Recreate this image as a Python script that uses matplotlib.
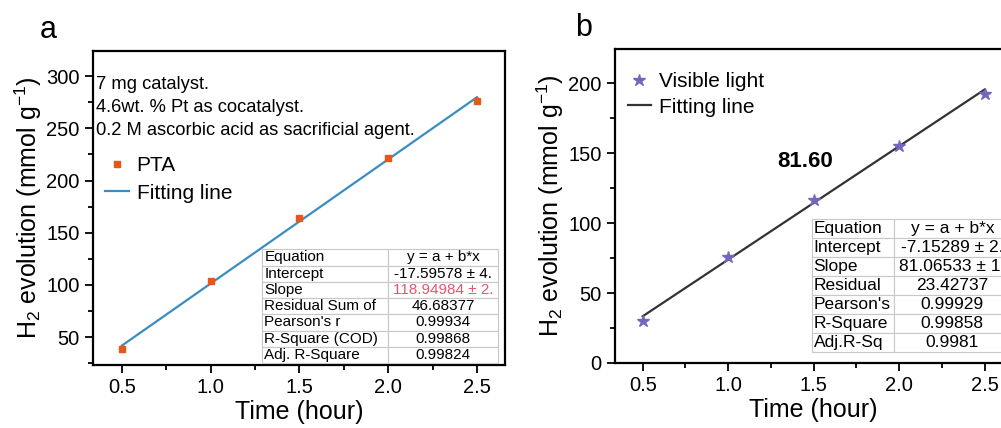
import matplotlib.pyplot as plt
from matplotlib.ticker import MultipleLocator

plt.rcParams['font.family'] = ['Liberation Sans', 'DejaVu Sans']
plt.rcParams['mathtext.fontset'] = 'custom'
plt.rcParams['mathtext.rm'] = 'Liberation Sans'

time_h = [0.5, 1.0, 1.5, 2.0, 2.5]
pta_h2 = [38.5, 103.6, 164.3, 221.7, 275.8]
vis_h2 = [29.7, 75.4, 116.6, 155.4, 192.4]

fit_a = (-17.59578, 118.94984)
fit_b = (-7.15289, 81.06533)

rows_a = ['Equation', 'Intercept', 'Slope', 'Residual Sum of', "Pearson's r",
          'R-Square (COD)', 'Adj. R-Square']
vals_a = ['y = a + b*x', '-17.59578 ± 4.', '118.94984 ± 2.', '46.68377',
          '0.99934', '0.99868', '0.99824']
rows_b = ['Equation', 'Intercept', 'Slope', 'Residual', "Pearson's",
          'R-Square', 'Adj.R-Sq']
vals_b = ['y = a + b*x', '-7.15289 ± 2.', '81.06533 ± 1.', '23.42737',
          '0.99929', '0.99858', '0.9981']

notes = ['7 mg catalyst.', '4.6wt. % Pt as cocatalyst.',
         '0.2 M ascorbic acid as sacrificial agent.']

ylabel = 'H$_2$ evolution (mmol g$^{-1}$)'


def style_axes(ax, ymajor):
    ax.xaxis.set_major_locator(MultipleLocator(0.5))
    ax.xaxis.set_minor_locator(MultipleLocator(0.25))
    ax.yaxis.set_major_locator(MultipleLocator(ymajor))
    ax.yaxis.set_minor_locator(MultipleLocator(ymajor / 2))
    ax.tick_params(which='both', direction='out', top=False, right=False,
                   labelsize=14.5, width=1.3)
    ax.tick_params(which='major', length=6)
    ax.tick_params(which='minor', length=3.5)
    for s in ax.spines.values():
        s.set_linewidth(1.6)
    ax.set_xlabel('Time (hour)', fontsize=18, labelpad=2)
    ax.set_ylabel(ylabel, fontsize=18, labelpad=2)


def fit_table(ax, rows, vals, bbox, col0, fs, hi=None):
    cells = [[r, v] for r, v in zip(rows, vals)]
    tb = ax.table(cellText=cells, bbox=bbox, colWidths=[col0, 1 - col0],
                  cellLoc='center', zorder=5)
    tb.auto_set_font_size(False)
    for (r, c), cell in tb.get_celld().items():
        cell.set_edgecolor('#c8c8c8')
        cell.set_linewidth(0.8)
        cell.set_facecolor('white')
        cell.get_text().set_fontsize(fs)
        cell.PAD = 0.02
        if c == 0:
            cell.get_text().set_ha('left')
            cell._loc = 'left'
        if hi is not None and r == hi and c == 1:
            cell.get_text().set_color('#f2506e')
    return tb


fig = plt.figure(figsize=(10.01, 4.28), dpi=100)

# panel a
ax1 = fig.add_axes([0.0929, 0.147, 0.4116, 0.7336])
xs = [time_h[0], time_h[-1]]
ax1.plot(xs, [fit_a[0] + fit_a[1] * x for x in xs], color='#3a8dc1', lw=1.6,
         label='Fitting line', zorder=2)
ax1.plot(time_h, pta_h2, 's', color='#e8561a', ms=5, label='PTA', zorder=3)
ax1.set_xlim(0.337, 2.658)
ax1.set_ylim(23.2, 324)
style_axes(ax1, 50)
for i, t in enumerate(notes):
    ax1.text(0.008, 0.895 - i * 0.0735, t, transform=ax1.transAxes,
             fontsize=13.2, va='center', ha='left', zorder=4,
             bbox=dict(fc='white', ec='none', pad=0.3) if i == 2 else None)
h, l = ax1.get_legend_handles_labels()
ax1.legend(h[::-1], l[::-1], loc='upper left', bbox_to_anchor=(0.0, 0.705),
           frameon=False, fontsize=15, handlelength=1.15, handletextpad=0.35,
           labelspacing=0.4, borderaxespad=0.2)
fit_table(ax1, rows_a, vals_a, [0.41, 0.006, 0.573, 0.363], 0.534, 11, hi=2)
fig.text(0.04, 0.93, 'a', fontsize=22, va='center')

# panel b
ax2 = fig.add_axes([0.6144, 0.152, 0.3966, 0.7336])
ax2.plot(xs, [fit_b[0] + fit_b[1] * x for x in xs], color='#333333', lw=1.6,
         label='Fitting line', zorder=2)
ax2.plot(time_h, vis_h2, '*', color='#7566bd', ms=9, mec='#7566bd',
         label='Visible light', zorder=3)
ax2.set_xlim(0.338, 2.66)
ax2.set_ylim(0, 224.5)
style_axes(ax2, 50)
ax2.text(1.452, 144, '81.60', fontsize=16, fontweight='bold', ha='center',
         va='center')
h, l = ax2.get_legend_handles_labels()
ax2.legend(h[::-1], l[::-1], loc='upper left', bbox_to_anchor=(0.0, 0.965),
           frameon=False, fontsize=15, handlelength=1.15, handletextpad=0.35,
           labelspacing=0.3, borderaxespad=0.2)
fit_table(ax2, rows_b, vals_b, [0.496, 0.035, 0.5, 0.424], 0.415, 12.5)
fig.text(0.575, 0.935, 'b', fontsize=22, va='center')

fig.savefig('out.png', dpi=100)
